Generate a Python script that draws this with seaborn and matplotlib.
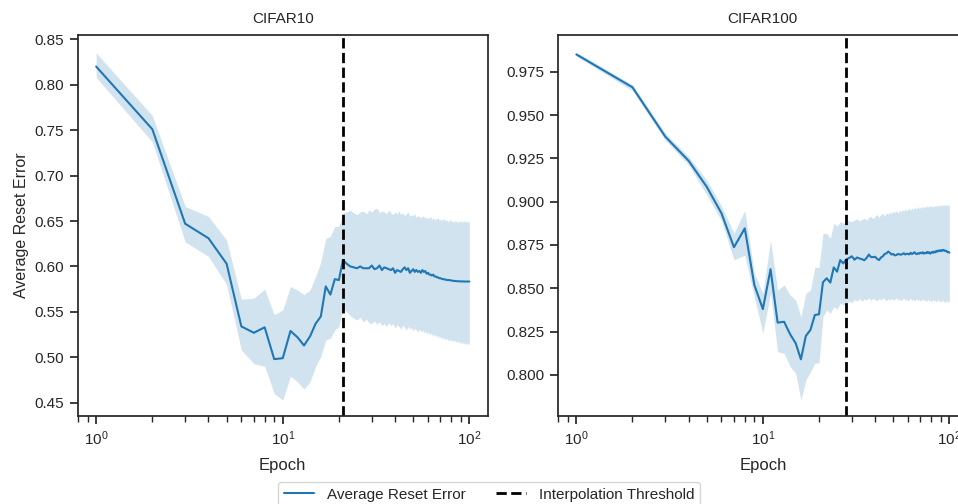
import numpy as np
import pandas as pd
import matplotlib
matplotlib.use("Agg")
import matplotlib.pyplot as plt
import seaborn as sns

# ---------------- data ----------------
epochs = list(range(1, 101))

cifar10_mean = [
    0.820, 0.751, 0.647, 0.631, 0.603, 0.534, 0.527, 0.533, 0.498, 0.499,
    0.529, 0.522, 0.513, 0.523, 0.537, 0.545, 0.578, 0.569, 0.586, 0.585,
    0.607, 0.603, 0.600, 0.599, 0.598, 0.600, 0.598, 0.598, 0.598, 0.601,
    0.597, 0.598, 0.601, 0.596, 0.599, 0.598, 0.597, 0.596, 0.598, 0.593,
    0.596, 0.595, 0.594, 0.597, 0.599, 0.596, 0.598, 0.593, 0.595, 0.597,
    0.594, 0.596, 0.594, 0.595, 0.593, 0.596, 0.594, 0.595, 0.592, 0.593,
    0.591, 0.591, 0.590, 0.591, 0.589, 0.589, 0.588, 0.588, 0.587, 0.587,
    0.5865, 0.586, 0.586, 0.5855, 0.5855, 0.585, 0.585, 0.585, 0.5848, 0.5845,
    0.5843, 0.5842, 0.584, 0.584, 0.5838, 0.5838, 0.5837, 0.5836, 0.5836, 0.5835,
    0.5835, 0.5835, 0.5835, 0.5834, 0.5834, 0.5834, 0.5834, 0.5834, 0.5834, 0.5834,
]
cifar10_upper = [
    0.835, 0.766, 0.666, 0.655, 0.629, 0.564, 0.565, 0.575, 0.547, 0.552,
    0.578, 0.574, 0.569, 0.574, 0.589, 0.605, 0.631, 0.633, 0.644, 0.644,
    0.659, 0.660, 0.662, 0.659, 0.657, 0.660, 0.661, 0.658, 0.662, 0.660,
    0.663, 0.664, 0.659, 0.661, 0.660, 0.658, 0.662, 0.659, 0.657, 0.660,
    0.658, 0.661, 0.657, 0.659, 0.656, 0.658, 0.660, 0.655, 0.657, 0.656,
    0.658, 0.654, 0.656, 0.655, 0.653, 0.656, 0.654, 0.655, 0.652, 0.654,
    0.653, 0.655, 0.652, 0.654, 0.651, 0.653, 0.652, 0.654, 0.651, 0.652,
    0.650, 0.653, 0.651, 0.652, 0.650, 0.651, 0.649, 0.652, 0.650, 0.651,
    0.649, 0.650, 0.648, 0.651, 0.649, 0.650, 0.648, 0.650, 0.649, 0.651,
    0.648, 0.650, 0.649, 0.651, 0.648, 0.650, 0.649, 0.650, 0.648, 0.651,
]
cifar10_lower = [
    0.808, 0.737, 0.627, 0.611, 0.580, 0.508, 0.493, 0.490, 0.460, 0.453,
    0.479, 0.473, 0.465, 0.473, 0.490, 0.501, 0.519, 0.521, 0.530, 0.534,
    0.554, 0.550, 0.546, 0.543, 0.541, 0.544, 0.539, 0.542, 0.538, 0.537,
    0.540, 0.536, 0.539, 0.535, 0.537, 0.534, 0.538, 0.535, 0.537, 0.532,
    0.536, 0.534, 0.531, 0.535, 0.533, 0.530, 0.534, 0.531, 0.533, 0.529,
    0.532, 0.530, 0.528, 0.531, 0.528, 0.530, 0.527, 0.529, 0.526, 0.528,
    0.525, 0.527, 0.524, 0.526, 0.523, 0.525, 0.522, 0.524, 0.521, 0.523,
    0.520, 0.522, 0.520, 0.521, 0.519, 0.521, 0.518, 0.520, 0.518, 0.520,
    0.517, 0.519, 0.517, 0.519, 0.516, 0.518, 0.516, 0.518, 0.515, 0.517,
    0.515, 0.517, 0.515, 0.516, 0.514, 0.516, 0.514, 0.516, 0.514, 0.515,
]

cifar100_mean = [
    0.985, 0.966, 0.9375, 0.9236, 0.9086, 0.8933, 0.8737, 0.8846, 0.852, 0.838,
    0.861, 0.8302, 0.8307, 0.8235, 0.8183, 0.809, 0.8225, 0.826, 0.8346, 0.835,
    0.8535, 0.8558, 0.8533, 0.8621, 0.8596, 0.8663, 0.8644, 0.8667, 0.8675, 0.8685,
    0.8665, 0.8678, 0.8672, 0.8668, 0.8662, 0.8675, 0.8695, 0.8680, 0.8680, 0.8682,
    0.8670, 0.8663, 0.8678, 0.8685, 0.8698, 0.8702, 0.8712, 0.8705, 0.8695, 0.8698,
    0.8690, 0.8692, 0.8698, 0.8696, 0.8694, 0.8698, 0.8702, 0.8695, 0.8700, 0.8698,
    0.8696, 0.8705, 0.8698, 0.8702, 0.8708, 0.8700, 0.8697, 0.8703, 0.8700, 0.8706,
    0.8702, 0.8708, 0.8700, 0.8705, 0.8702, 0.8710, 0.8704, 0.8708, 0.8700, 0.8706,
    0.8710, 0.8705, 0.8712, 0.8707, 0.8715, 0.8712, 0.8718, 0.8714, 0.8719, 0.8716,
    0.8720, 0.8717, 0.8722, 0.8718, 0.8715, 0.8717, 0.8712, 0.8708, 0.8710, 0.8706,
]
cifar100_upper = [
    0.9862, 0.9675, 0.9395, 0.9260, 0.9125, 0.8975, 0.8818, 0.8950, 0.8587, 0.8471,
    0.8779, 0.8490, 0.8519, 0.8461, 0.8432, 0.8336, 0.8471, 0.8490, 0.8621, 0.8621,
    0.8817, 0.8817, 0.8789, 0.8875, 0.8860, 0.8884, 0.8875, 0.8894, 0.8890, 0.8885,
    0.8895, 0.8900, 0.8888, 0.8898, 0.8905, 0.8893, 0.8910, 0.8915, 0.8902, 0.8918,
    0.8925, 0.8910, 0.8928, 0.8930, 0.8918, 0.8935, 0.8928, 0.8940, 0.8932, 0.8945,
    0.8938, 0.8948, 0.8935, 0.8950, 0.8942, 0.8955, 0.8945, 0.8958, 0.8948, 0.8955,
    0.8962, 0.8950, 0.8965, 0.8955, 0.8968, 0.8958, 0.8965, 0.8972, 0.8960, 0.8970,
    0.8962, 0.8975, 0.8965, 0.8972, 0.8968, 0.8978, 0.8966, 0.8975, 0.8970, 0.8980,
    0.8968, 0.8976, 0.8970, 0.8980, 0.8972, 0.8982, 0.8974, 0.8980, 0.8976, 0.8985,
    0.8975, 0.8982, 0.8978, 0.8985, 0.8976, 0.8983, 0.8978, 0.8984, 0.8977, 0.8980,
]
cifar100_lower = [
    0.9840, 0.9640, 0.9355, 0.9211, 0.9040, 0.8890, 0.8664, 0.8692, 0.8450, 0.8240,
    0.8471, 0.8134, 0.8125, 0.8048, 0.8010, 0.7855, 0.7970, 0.8019, 0.8067, 0.8070,
    0.8336, 0.8375, 0.8356, 0.8394, 0.8380, 0.8414, 0.8405, 0.8410, 0.8425, 0.8418,
    0.8435, 0.8428, 0.8440, 0.8425, 0.8438, 0.8432, 0.8445, 0.8430, 0.8442, 0.8435,
    0.8428, 0.8440, 0.8432, 0.8445, 0.8436, 0.8428, 0.8440, 0.8433, 0.8442, 0.8430,
    0.8438, 0.8445, 0.8432, 0.8440, 0.8428, 0.8437, 0.8444, 0.8430, 0.8438, 0.8426,
    0.8436, 0.8442, 0.8430, 0.8437, 0.8425, 0.8434, 0.8440, 0.8428, 0.8436, 0.8424,
    0.8433, 0.8440, 0.8427, 0.8435, 0.8422, 0.8431, 0.8438, 0.8425, 0.8433, 0.8420,
    0.8430, 0.8436, 0.8424, 0.8432, 0.8420, 0.8428, 0.8435, 0.8422, 0.8430, 0.8418,
    0.8427, 0.8433, 0.8420, 0.8428, 0.8416, 0.8425, 0.8430, 0.8418, 0.8426, 0.8422,
]

titles = ["CIFAR10", "CIFAR100"]
thresholds = [21, 28]
line_label = "Average Reset Error"
thresh_label = "Interpolation Threshold"

# ---------------- style ----------------
sns.set_theme(style="ticks", context="notebook")
plt.rcParams["font.family"] = ["Liberation Sans", "DejaVu Sans"]

W, H = 958, 504
fig = plt.figure(figsize=(W / 100, H / 100), dpi=100)

ax1 = fig.add_axes([77.5 / W, (H - 416) / H, (488 - 77.5) / W, (416 - 35) / H])
ax2 = fig.add_axes([557.7 / W, (H - 416) / H, (968 - 557.7) / W, (416 - 35) / H])

color = "#1f77b4"
panels = [
    (ax1, cifar10_mean, cifar10_lower, cifar10_upper, (0.4354, 0.8547)),
    (ax2, cifar100_mean, cifar100_lower, cifar100_upper, (0.7763, 0.9962)),
]

for i, (ax, mean, lo, hi, ylim) in enumerate(panels):
    df = pd.DataFrame({"Epoch": epochs, "err": mean})
    sns.lineplot(data=df, x="Epoch", y="err", ax=ax, color=color, lw=1.5,
                 label=line_label, legend=False)
    ax.fill_between(epochs, lo, hi, color=color, alpha=0.2, lw=0)
    ax.axvline(thresholds[i], color="black", ls="--", lw=2, label=thresh_label)
    ax.set_xscale("log")
    ax.set_xlim(10 ** -0.1, 10 ** 2.1)
    ax.set_ylim(*ylim)
    ax.set_title(titles[i], fontsize=11, pad=8.5)
    ax.set_xlabel("Epoch", fontsize=12, labelpad=7)
    ax.set_ylabel("Average Reset Error" if i == 0 else "", fontsize=11.5)
    ax.tick_params(axis="both", which="major", labelsize=11)
    for s in ax.spines.values():
        s.set_visible(True)

handles, labels = ax1.get_legend_handles_labels()
fig.legend(handles, labels, loc="upper center", ncol=2,
           bbox_to_anchor=(489 / W, 1 - 474 / H), fontsize=11,
           frameon=True, columnspacing=2.0)

fig.savefig("out.png", dpi=100)
